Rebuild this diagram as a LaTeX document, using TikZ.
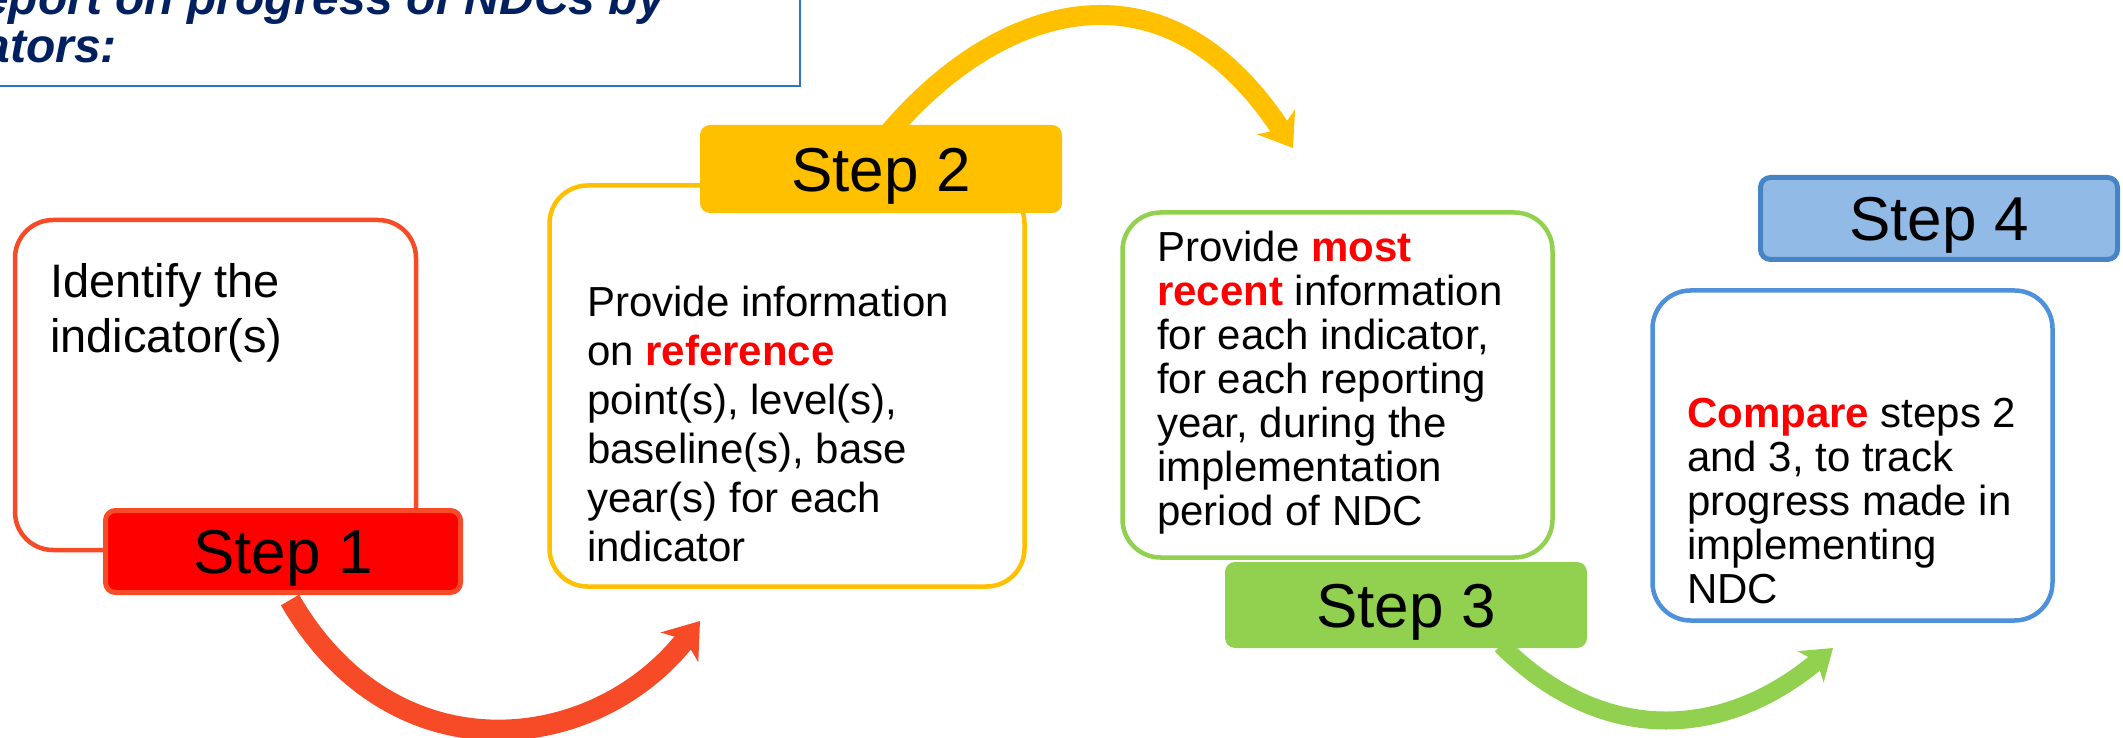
\documentclass[tikz,border=0pt]{standalone}
\usepackage{fontspec}
\setmainfont{Liberation Sans}
\usetikzlibrary{arrows.meta}
\definecolor{orred}{RGB}{247,74,38}
\definecolor{ylw}{RGB}{255,192,0}
\definecolor{grn}{RGB}{146,208,80}
\definecolor{blu}{RGB}{78,144,218}
\definecolor{lblu}{RGB}{146,186,231}
\definecolor{lbord}{RGB}{70,132,198}
\definecolor{navy}{RGB}{0,32,96}
\definecolor{tblue}{RGB}{46,117,200}
\newcommand{\hl}[1]{{\bfseries\color{red}#1}}
\begin{document}
\begin{tikzpicture}[x=1pt,y=1pt,
  box/.style={draw, line width=4.5pt, rounded corners=38pt, fill=white, inner sep=0pt},
  steplab/.style={rounded corners=10pt, inner sep=0pt, font=\fontsize{62}{74}\selectfont, text height=44.4pt, text depth=0pt},
  body/.style={anchor=base west, inner sep=0pt},
  bodyA/.style={body, font=\fontsize{47}{55}\selectfont},
  bodyB/.style={body, font=\fontsize{42}{49}\selectfont},
  bodyC/.style={body, font=\fontsize{42}{44}\selectfont},
  ttl/.style={anchor=base east, inner sep=0pt, text=navy, font=\fontsize{48}{56}\selectfont\bfseries\itshape}
]
\useasboundingbox (0,0) rectangle (2123,737);

% title box (cut off by the page)
\begin{scope}
\clip (0,0) rectangle (2123,737);
\draw[tblue, line width=2.5pt, fill=white] (-20,651) rectangle (800,760);
\node[ttl] (tt1) at (665,722) {report on progress of NDCs by};
\node[ttl] (tt2) at (117,674) {indicators:};
\end{scope}

% arrow end points
\coordinate (a1s) at (290,137);
\coordinate (a1e) at (700,116);
\coordinate (a2s) at (887,602);
\coordinate (a2e) at (1293,589);
\coordinate (a3s) at (1501,92);
\coordinate (a3e) at (1833,89);

\draw[orred, line width=21pt, -{Stealth[length=33pt, width=47pt, inset=9pt]}]
  (a1s) .. controls (393,-41) and (594,-19) .. (a1e);
\draw[ylw, line width=20pt, -{Stealth[length=31pt, width=45pt, inset=9pt]}]
  (a2s) .. controls (997,733) and (1164,787) .. (a2e);
\draw[grn, line width=18pt, -{Stealth[length=29pt, width=40pt, inset=8pt]}]
  (a3s) .. controls (1601,-8) and (1722,-4) .. (a3e);

% boxes
\node[box, draw=orred, minimum width=401pt, minimum height=330pt] (b1) at (215.5,352) {};
\node[box, draw=ylw, minimum width=475pt, minimum height=401pt] (b2) at (787,351) {};
\node[box, draw=grn, minimum width=430pt, minimum height=345pt] (b3) at (1337.5,352) {};
\node[box, draw=blu, minimum width=400pt, minimum height=330pt] (b4) at (1852.5,281.5) {};

% texts
\node[bodyA] (t1) at (50,439) {\vtop{\hbox{Identify the}\hbox{indicator(s)}}};
\node[bodyB] (t2) at (587,420) {\vtop{\hbox{Provide information}\hbox{on \hl{reference}}\hbox{point(s), level(s),}\hbox{baseline(s), base}\hbox{year(s) for each}\hbox{indicator}}};
\node[bodyC] (t3) at (1157,475) {\vtop{\hbox{Provide \hl{most}}\hbox{\hl{recent} information}\hbox{for each indicator,}\hbox{for each reporting}\hbox{year, during the}\hbox{implementation}\hbox{period of NDC}}};
\node[bodyC] (t4) at (1687,309) {\vtop{\hbox{\hl{Compare} steps 2}\hbox{and 3, to track}\hbox{progress made in}\hbox{implementing}\hbox{NDC}}};

% step labels
\node[steplab, fill=red, draw=orred, line width=5pt, minimum width=355pt, minimum height=82pt] (s1) at (283,185.5) {Step 1};
\node[steplab, fill=ylw, minimum width=362pt, minimum height=88pt] (s2) at (881,568) {Step 2};
\node[steplab, fill=grn, minimum width=362pt, minimum height=86pt] (s3) at (1406,132) {Step 3};
\node[steplab, fill=lblu, draw=lbord, line width=5pt, minimum width=357pt, minimum height=82pt] (s4) at (1939,518.5) {Step 4};
\end{tikzpicture}
\end{document}
